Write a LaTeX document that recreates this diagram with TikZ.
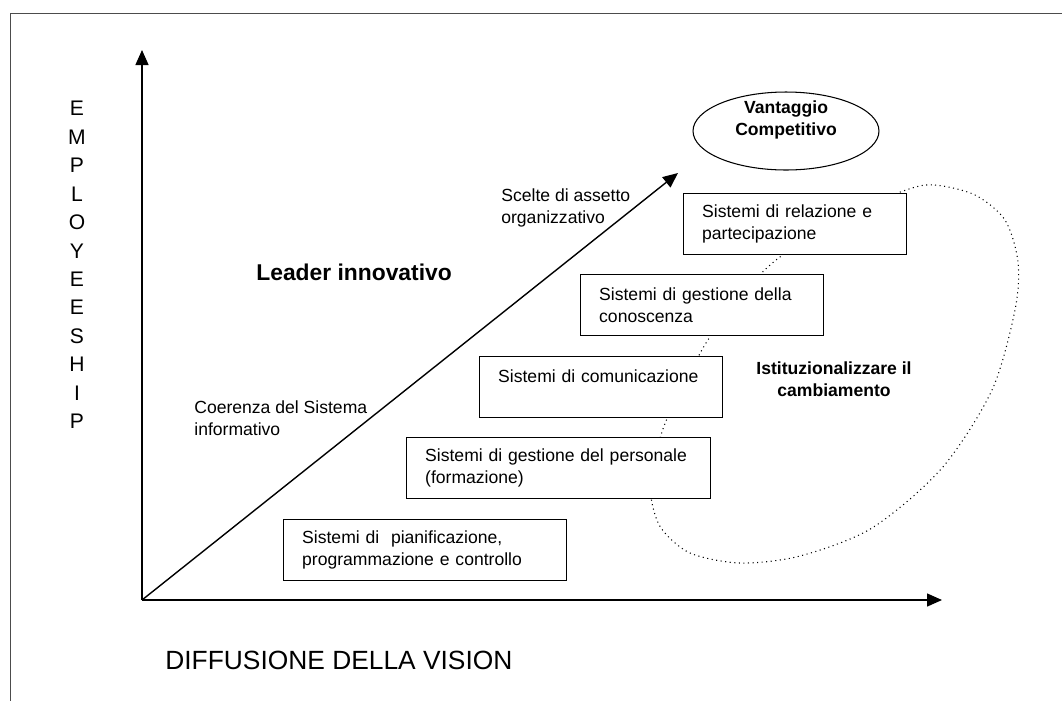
\documentclass[tikz,border=0pt]{standalone}
\usepackage{fontspec}
\setmainfont{Liberation Sans}
\usetikzlibrary{positioning, arrows.meta, shapes.geometric}

\begin{document}
\begin{tikzpicture}[
x=0.02cm, y=-0.02cm,
every node/.style={font=\fontsize{10}{12.3}\selectfont},
sys box/.style={draw, line width=0.8pt, fill=white, minimum height=1.22cm, inner xsep=0.37cm, align=left, anchor=north west},
axis/.style={-{Triangle[length=0.3cm, width=0.26cm]}, line width=0.8pt},
note/.style={inner sep=0pt, align=left, anchor=west},
bold note/.style={font=\fontsize{10}{12.3}\selectfont\bfseries, align=center},
]
\useasboundingbox (0,0) rectangle (1062,701);

% Frame
\draw[gray!60!black, line width=0.5pt] (1062,13) -- (10,13) -- (10,701);

% Axes and diagonal
\coordinate (o) at (142,600);
\coordinate (ytip) at (142,50);
\coordinate (xtip) at (942,600);
\coordinate (dtip) at (678,173);
\draw[axis] (o) -- (ytip);
\draw[axis] (o) -- (xtip);
\draw[axis] (o) -- (dtip);

% Goal
\node[ellipse, draw, line width=0.6pt, minimum width=3.72cm, minimum height=1.56cm] (vant) at (786,131) {};
\node[bold note] (vtext) at ([yshift=0.22cm]vant.center) {Vantaggio\\Competitivo};

% Dotted loop through the systems
\draw[dotted, line width=0.6pt] plot[smooth cycle] coordinates {
(906,190) (935,185) (975,195) (1005,220) (1018,262) (1015,310) (992,390)
(942,468) (872,528) (800,556) (740,563) (690,553) (661,528) (651,497)
(653,468) (664,426) (684,385) (706,343) (737,300) (776,260) (840,218)};

% Systems (staircase)
\node[sys box, text width=3.72cm] (rel) at (683,193) {Sistemi di relazione e\\partecipazione};
\node[sys box, text width=4.12cm] (con) at (580,274) {Sistemi di gestione della\\conoscenza};
\node[sys box, text width=4.12cm] (com) at (479,356) {Sistemi di comunicazione\\~};
\node[sys box, text width=5.34cm] (per) at (406,437) {Sistemi di gestione del personale\\(formazione)};
\node[sys box, text width=4.92cm] (pia) at (283,519) {Sistemi di \ pianificazione,\\programmazione e controllo};

% Labels
\node[note] (scel) at (501,208) {Scelte di assetto\\organizzativo};
\node[note, font=\fontsize{13}{15}\selectfont\bfseries] (lead) at (256,272) {Leader innovativo};
\node[note] (coer) at (194,418) {Coerenza del Sistema\\informativo};
\node[bold note] (ist) at (834,379) {Istituzionalizzare il\\cambiamento};

% Axis titles
\node[font=\fontsize{12}{16.2}\selectfont, align=center] (emp) at (77,265) {E\\M\\P\\L\\O\\Y\\E\\E\\S\\H\\I\\P};
\node[note, font=\fontsize{15}{17}\selectfont] (diff) at (165,660) {DIFFUSIONE DELLA VISION};
\end{tikzpicture}
\end{document}
